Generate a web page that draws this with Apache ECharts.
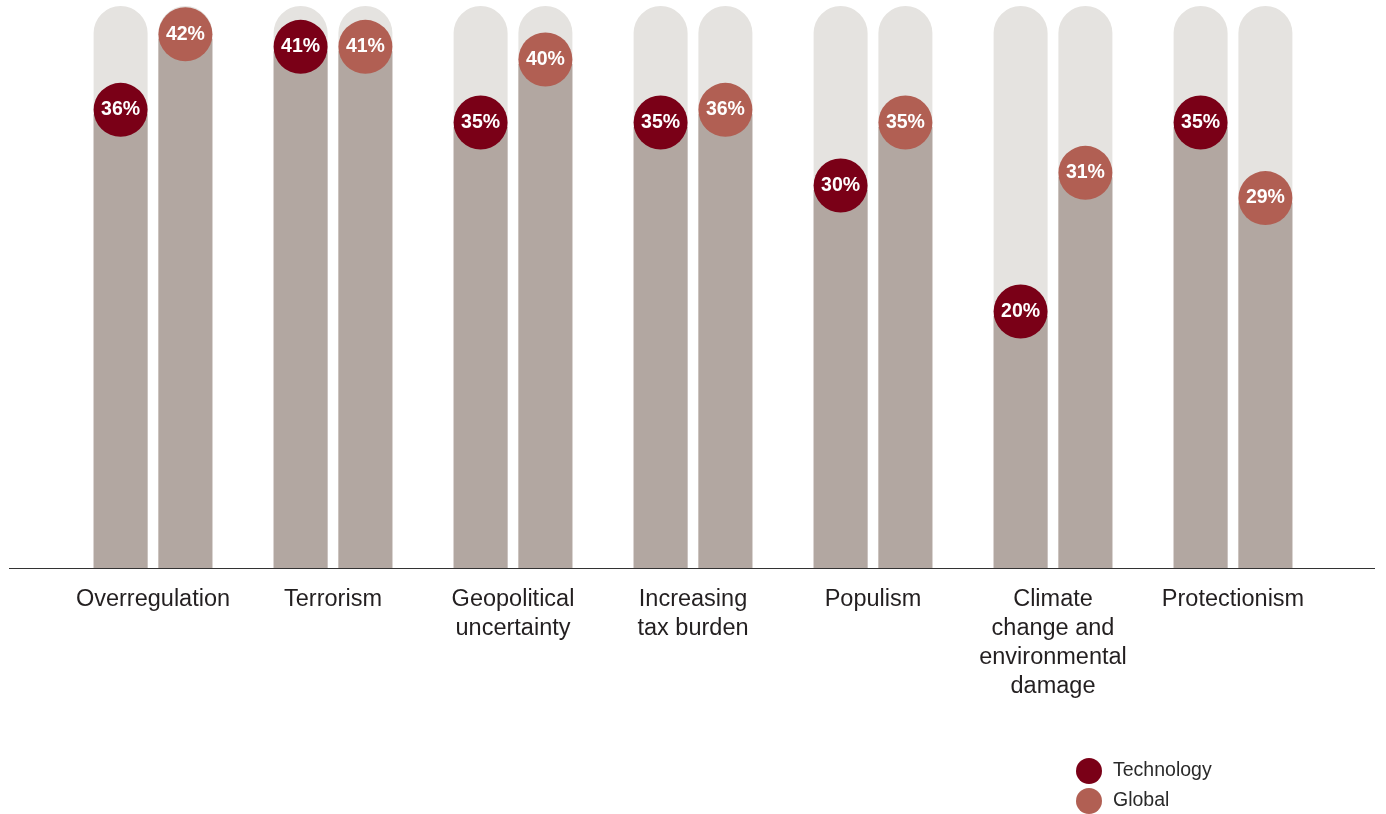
<!DOCTYPE html>
<html>
<head>
<meta charset="utf-8">
<script src="https://cdn.jsdelivr.net/npm/echarts@6/dist/echarts.min.js"></script>
<style>
  html, body { margin: 0; padding: 0; background: #fff; }
  #chart { width: 1386px; height: 814px; }
</style>
</head>
<body>
<div id="chart"></div>
<script>
// categories and values (percent)
const categories = [
  'Overregulation',
  'Terrorism',
  'Geopolitical\nuncertainty',
  'Increasing\ntax burden',
  'Populism',
  'Climate\nchange and\nenvironmental\ndamage',
  'Protectionism'
]
const technology = [36, 41, 35, 35, 30, 20, 35]
const global = [42, 41, 40, 36, 35, 31, 29]

const techColor = '#7a0017'
const globalColor = '#b15f53'
const barColor = '#b2a7a1'
const trackColor = '#e5e3e0'
const font = 'Liberation Sans, Arial, sans-serif'

// circle label sitting on the top of each bar
function circleLabel(color) {
  return {
    show: true,
    position: 'top',
    distance: -22.5,
    formatter: '{c}%',
    color: '#fff',
    fontFamily: font,
    fontWeight: 'bold',
    fontSize: 19.5,
    width: 54,
    height: 54,
    lineHeight: 54,
    align: 'center',
    borderRadius: 27,
    backgroundColor: color
  }
}

function barSeries(name, data, color) {
  return {
    name,
    type: 'bar',
    data,
    barWidth: 54,
    barGap: '20%',
    itemStyle: { color: barColor },
    showBackground: true,
    backgroundStyle: { color: trackColor, borderRadius: [27, 27, 0, 0] },
    label: circleLabel(color),
    emphasis: { disabled: true }
  }
}

// one legend per entry so they stack vertically
function legendItem(name, color, top) {
  return {
    left: 1071,
    top,
    icon: 'circle',
    itemWidth: 26,
    itemHeight: 26,
    textStyle: { fontFamily: font, fontSize: 19.5, color: '#2a2a2a', padding: [0, 0, 0, 6] },
    data: [{ name, itemStyle: { color } }]
  }
}

const chart = echarts.init(document.getElementById('chart'))
chart.setOption({
  animation: false,
  grid: { left: 63, right: 63, top: 6, bottom: 246 },
  legend: [
    legendItem('Technology', techColor, 753),
    legendItem('Global', globalColor, 783)
  ],
  xAxis: {
    type: 'category',
    data: categories,
    axisLine: { show: false },
    axisTick: { show: false },
    axisLabel: {
      interval: 0,
      margin: 17,
      fontFamily: font,
      fontSize: 23.5,
      lineHeight: 29,
      color: '#231f20',
      verticalAlign: 'top'
    }
  },
  yAxis: {
    type: 'value',
    min: 0,
    max: 44.6,
    show: false
  },
  graphic: [{
    type: 'line',
    shape: { x1: 9, y1: 568.5, x2: 1375, y2: 568.5 },
    style: { stroke: '#333', lineWidth: 1.2 },
    z: 10
  }],
  series: [
    barSeries('Technology', technology, techColor),
    barSeries('Global', global, globalColor)
  ]
})
</script>
</body>
</html>
